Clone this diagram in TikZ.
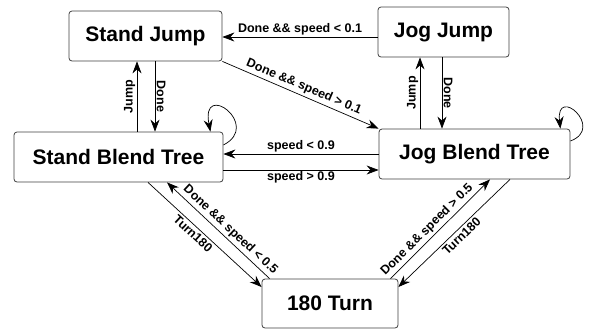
\documentclass[tikz,border=0pt]{standalone}
\usepackage{fontspec}
\setmainfont{Liberation Sans}
\usetikzlibrary{arrows.meta,calc}
\begin{document}
\begin{tikzpicture}[x=1pt,y=-1pt,
  state/.style={draw=black!75, line width=0.8pt, rounded corners=3pt, fill=white,
    font=\fontsize{21}{24}\selectfont\bfseries, inner sep=0pt},
  tr/.style={line width=0.7pt, -{Stealth[length=12pt,width=9pt,inset=4pt]}},
  lbl/.style={font=\fontsize{12.5}{14}\selectfont\bfseries, inner sep=1.5pt},
  dlbl/.style={lbl, sloped, inner sep=2.5pt}]
\useasboundingbox (0,0) rectangle (597,333);
\node[state, minimum width=153pt, minimum height=50pt] (sj) at (145.5,36) {Stand Jump};
\node[state, minimum width=131pt, minimum height=50pt] (jj) at (443.5,32) {Jog Jump};
\node[state, minimum width=209pt, minimum height=50pt] (sbt) at (118.5,157) {Stand Blend Tree};
\node[state, minimum width=191pt, minimum height=50pt] (jbt) at (474.5,154) {Jog Blend Tree};
\node[state, minimum width=136pt, minimum height=49pt] (turn) at (330,303.5) {180 Turn};

% Jog Jump -> Stand Jump
\draw[tr] ([yshift=-5pt]jj.west) coordinate (a1) -- (a1 -| sj.east)
  node[lbl, midway, above] {Done \&\& speed \textless{} 0.1};
% Stand Jump -> Jog Blend Tree
\draw[tr] (sj.south east) -- (jbt.north west)
  node[dlbl, midway, above] {Done \&\& speed \textgreater{} 0.1};

% Stand Jump <-> Stand Blend Tree
\coordinate (sjA) at ([xshift=-8.5pt]sj.south);
\coordinate (sjB) at ([xshift=9.5pt]sj.south);
\draw[tr] (sjA |- sbt.north) -- (sjA) node[lbl, midway, rotate=90, anchor=south] {Jump};
\draw[tr] (sjB) -- (sjB |- sbt.north) node[lbl, midway, rotate=-90, anchor=south] {Done};

% Jog Jump <-> Jog Blend Tree
\coordinate (jjA) at ([xshift=-23.5pt]jj.south);
\coordinate (jjB) at ([xshift=-1.5pt]jj.south);
\draw[tr] (jjA |- jbt.north) -- (jjA) node[lbl, midway, rotate=90, anchor=south] {Jump};
\draw[tr] (jjB) -- (jjB |- jbt.north) node[lbl, midway, rotate=-90, anchor=south] {Done};

% Blend trees
\draw[tr] (jbt.west) -- (jbt.west -| sbt.east)
  node[lbl, midway, above] {speed \textless{} 0.9};
\draw[tr] ([yshift=-13pt]sbt.east) coordinate (b1) -- (b1 -| jbt.west)
  node[lbl, midway, below] {speed \textgreater{} 0.9};

% self loops
\draw[tr] ([yshift=12pt]sbt.east) .. controls +(39,-20) and +(-10,-52) .. ([xshift=-13pt]sbt.north east);
\draw[tr] ([yshift=13pt]jbt.east) .. controls +(35,-13) and +(-5,-44) .. ([xshift=-10pt]jbt.north east);

% 180 turn
\draw[tr] ([xshift=29.5pt]sbt.south) -- ([yshift=16.5pt]turn.west)
  node[dlbl, pos=0.44, below] {Turn180};
\draw[tr] ([xshift=8pt]turn.north west) -- ([xshift=48.5pt]sbt.south)
  node[dlbl, pos=0.44, above] {Done \&\& speed \textless{} 0.5};
\draw[tr] ([xshift=-8pt]turn.north east) -- ([xshift=15.5pt]jbt.south)
  node[dlbl, pos=0.43, above] {Done \&\& speed \textgreater{} 0.5};
\draw[tr] ([xshift=35.5pt]jbt.south) -- ([yshift=16.5pt]turn.east)
  node[dlbl, pos=0.48, below] {Turn180};
\end{tikzpicture}
\end{document}
